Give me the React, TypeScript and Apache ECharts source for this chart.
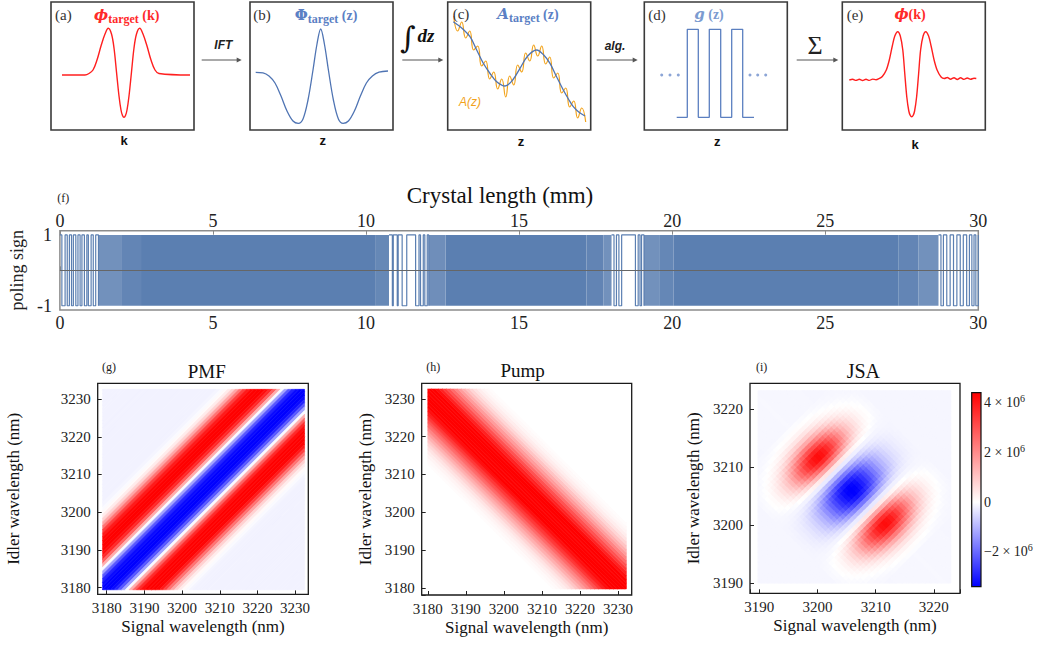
import React, { useEffect, useRef } from "react";
import * as echarts from "echarts";

const SERIF = "'Liberation Serif', 'Times New Roman', serif";
const SANS = "'Liberation Sans', Arial, sans-serif";
const RED = "#ff1f1f";
const BLUE = "#4f74b3";
const TITLE_BLUE = "#5b80c4";
const ORANGE = "#f2a31b";
const POLING_RGB = [91, 127, 177];
const POLING_BLUE = "rgb(91,127,177)";

// ---------- (a)-(e) schematic curves: x = px from panel's left edge, y = px above panel's bottom edge
const PHI_T_X = [11, 34, 38, 42, 46, 50, 54, 57.3, 60.5, 63, 65.5, 68, 70, 71.5, 73, 74.5, 76, 78, 80.5, 83, 85.5, 88.7, 92, 96, 100, 104, 108, 139];
const PHI_T_Y = [55, 55, 56.5, 60, 70, 84, 96, 101.7, 96, 82, 58, 34, 20, 14.5, 12.7, 14.5, 20, 34, 58, 82, 96, 101.7, 96, 84, 70, 60, 56.5, 55];

const PHI_Z_X = [5.7, 13, 19, 25, 31, 37, 43, 48.3, 53, 58, 63, 67, 70.7, 74.4, 78.4, 83.4, 88.4, 93.1, 98.4, 104.4, 110.4, 116.4, 122.4, 129, 138];
const PHI_Z_Y = [57.7, 57.2, 54, 47, 34, 19, 9, 6.7, 11, 30, 60, 86, 101, 86, 60, 30, 11, 6.7, 9, 19, 34, 47, 54, 57.8, 59];

const A_T_X = [5.6, 14, 22.3, 29, 35.6, 42, 49, 57.3, 65, 72.3, 80, 89, 96, 102.3, 109, 115.6, 121, 125.6, 131, 137.3];
const A_T_Y = [108.3, 102, 93.3, 80, 66.7, 57, 48.3, 44, 50, 61.7, 74, 80, 75, 66.7, 53, 40, 30.5, 23.3, 18, 14];

const A_Z_X = [6, 10, 14, 18, 22, 26, 30, 34, 38, 42, 46, 50, 54, 58, 62, 66, 70, 74, 78, 82, 86, 90, 94, 98, 102, 106, 110, 114, 118, 122, 126, 130, 134, 138];
const A_Z_Y = [114, 99, 108, 92, 99, 80, 84, 64, 69, 51, 58, 41, 51, 33, 54, 45, 65, 58, 77, 69, 85, 74, 84, 66, 73, 52, 57, 37, 42, 23, 29, 12, 22, 8];

const G_X = [32.4, 43, 54, 65, 76.4, 87.4, 98.4, 109.7];
const G_Y = [12.7, 100.7, 12.7, 100.7, 12.7, 100.7, 12.7, 12.7];
const DOTS_X = [17.4, 25.7, 34, 105.7, 113.4, 121.4];
const DOTS_Y = [55, 55, 55, 55, 55, 55];

const PHI_K_X = [7, 10.3, 13.7, 17, 20.3, 23.7, 27, 30.3, 33.7, 37, 40, 44, 47, 50, 52.5, 55.4, 58, 60.5, 62.5, 64.5, 66.5, 68, 69.4, 70.8, 72.3, 74.3, 76.3, 78.3, 80.8, 83.4, 86.3, 88.8, 91.8, 94.8, 98.8, 102, 105, 108.3, 111.7, 115, 118.3, 121.7, 125, 128.3, 131.7, 134];
const PHI_K_Y = [50, 50.8, 49.6, 50.7, 49.5, 50.8, 49.6, 50.9, 50.2, 51.5, 53.5, 60, 70, 84, 94, 98.3, 94, 80, 56, 33, 19, 14.5, 13.3, 14.5, 19, 33, 56, 80, 94, 98.3, 94, 84, 70, 60, 53, 51.5, 52.5, 50.8, 52.3, 50.5, 52.2, 50.6, 52, 50.7, 51.8, 51.5];

// ---------- (f) poling pattern (mm): [start, end, fill density]
const POLING_BLOCKS = [
  [2.65, 10.32, 1], [12.6, 17.2, 1], [20.05, 27.4, 1],
  [1.26, 2.0, 0.86], [2.0, 2.65, 0.95], [10.32, 10.75, 0.93], [12.05, 12.6, 0.88],
  [17.2, 17.75, 0.96], [17.75, 18.02, 0.86], [19.08, 19.6, 0.86], [19.6, 20.05, 0.94],
  [27.4, 28.05, 0.95], [28.05, 28.7, 0.86],
];
const POLING_WALLS = [
  [0, 0.065, 0.17, 0.24, 0.31, 0.38, 0.44, 0.52, 0.59, 0.66, 0.72, 0.8, 0.88, 0.93, 1.02, 1.09, 1.17, 1.26],
  [10.75, 10.86, 10.89, 11.02, 11.05, 11.18, 11.33, 11.62, 11.73, 11.78, 11.87, 11.92, 12.0, 12.05],
  [18.02, 18.1, 18.18, 18.26, 18.35, 18.8, 18.89, 18.95, 19.0, 19.08],
  [28.7, 28.78, 28.86, 28.97, 29.08, 29.19, 29.3, 29.41, 29.51, 29.62, 29.71, 29.79, 29.86, 29.92, 30.0],
];

// ---------- (g) PMF: value vs |signal - idler| (nm), 1 nm steps
const PMF_HALF = [-1, -1, -0.96, -0.86, -0.66, -0.36, -0.02, 0.32, 0.62, 0.84, 0.95, 1, 1, 1, 0.98, 0.9, 0.75, 0.55, 0.35, 0.18, 0.08, 0.02, -0.02, -0.04];
const PMF_BG = -0.05;
const PMF_BOX = [3178.9, 3232.5, 3179.4, 3232.6]; // signal min/max, idler min/max of the drawn field

// ---------- (h) Pump: value vs |signal + idler - centre|
const PUMP_HALF = [1, 0.99, 0.96, 0.91, 0.85, 0.78, 0.7, 0.61, 0.52, 0.43, 0.35, 0.28, 0.21, 0.15, 0.1, 0.065, 0.04, 0.02, 0.01, 0];
const PUMP_CENTER_SUM = 6411;
const PUMP_BOX = [3180, 3232.2, 3179.7, 3232.6];

// ---------- (i) JSA (×10^6): lobes across |s - i|, envelope along |s + i - centre|
const JSA_D_HALF = [-3.3, -3.25, -3.0, -2.45, -1.7, -0.9, -0.2, 0.6, 1.7, 2.9, 3.8, 4.3, 4.3, 3.9, 3.2, 2.4, 1.6, 1.0, 0.6, 0.33, 0.17, 0.08];
const JSA_D_TAIL = 0.02;
const JSA_U_HALF = [1, 0.98, 0.94, 0.87, 0.79, 0.7, 0.6, 0.5, 0.41, 0.32, 0.25, 0.19, 0.14, 0.1, 0.07, 0.045, 0.03, 0.015, 0.008, 0];
const JSA_BG = -0.12;
const JSA_CENTER_SUM = 6412;
const JSA_BOX = [3189.8, 3222.9, 3190.1, 3223.2];
const JSA_MIN = -3.4e6;
const JSA_MAX = 4.4e6;

// ---------- helpers
const WHITE = [255, 255, 255];
const PURE_RED = [255, 0, 0];
const PURE_BLUE = [0, 0, 255];
const mix = (a: number[], b: number[], t: number) =>
  `rgb(${Math.round(a[0] + (b[0] - a[0]) * t)},${Math.round(a[1] + (b[1] - a[1]) * t)},${Math.round(a[2] + (b[2] - a[2]) * t)})`;
const diverging = (v: number, lo: number, hi: number) =>
  v >= 0 ? mix(WHITE, PURE_RED, Math.min(1, v / hi)) : mix(WHITE, PURE_BLUE, Math.min(1, v / lo));

const pairs = (xs: number[], ys: number[]) => xs.map((x, i) => [x, ys[i]]);

type Pt = [number, number];
function clipHalf(poly: Pt[], f: (p: Pt) => number): Pt[] {
  const out: Pt[] = [];
  for (let k = 0; k < poly.length; k++) {
    const a = poly[k], b = poly[(k + 1) % poly.length];
    const fa = f(a), fb = f(b);
    if (fa >= 0) out.push(a);
    if ((fa >= 0) !== (fb >= 0)) {
      const t = fa / (fa - fb);
      out.push([a[0] + (b[0] - a[0]) * t, a[1] + (b[1] - a[1]) * t]);
    }
  }
  return out;
}
const boxPoly = (b: number[]): Pt[] => [[b[0], b[2]], [b[1], b[2]], [b[1], b[3]], [b[0], b[3]]];

// cell in rotated (d = s - i, u = s + i) coordinates, clipped to the drawn field
function cellPoly(box: number[], d0: number, d1: number, u0: number, u1: number): Pt[] {
  let p = boxPoly(box);
  if (isFinite(d0)) p = clipHalf(p, (q) => q[0] - q[1] - d0);
  if (isFinite(d1)) p = clipHalf(p, (q) => d1 - (q[0] - q[1]));
  if (isFinite(u0)) p = clipHalf(p, (q) => q[0] + q[1] - u0);
  if (isFinite(u1)) p = clipHalf(p, (q) => u1 - (q[0] + q[1]));
  return p;
}

// data items: [dCentre, uCentre, value] (NaN = unbounded)
function rotatedSeries(data: number[][], xIdx: number, yIdx: number, box: number[], colorFn: (v: number) => string, lw: number) {
  return {
    type: "custom",
    xAxisIndex: xIdx,
    yAxisIndex: yIdx,
    silent: true,
    progressive: 0,
    data,
    renderItem: (_p: any, api: any) => {
      const dc = api.value(0), uc = api.value(1);
      const hasD = !isNaN(dc), hasU = !isNaN(uc);
      const poly = cellPoly(box, hasD ? dc - 0.5 : -Infinity, hasD ? dc + 0.5 : Infinity, hasU ? uc - 0.5 : -Infinity, hasU ? uc + 0.5 : Infinity);
      if (poly.length < 3) return { type: "group", children: [] };
      const fill = colorFn(api.value(2));
      return {
        type: "polygon",
        shape: { points: poly.map((q) => api.coord(q)) },
        style: { fill, stroke: fill, lineWidth: lw, lineJoin: "round" },
      };
    },
  };
}

function buildPMF() {
  const out: number[][] = [];
  for (let d = -55; d <= 55; d++) {
    const a = Math.abs(d);
    out.push([d, NaN, a < PMF_HALF.length ? PMF_HALF[a] : PMF_BG]);
  }
  return out;
}
function buildPump() {
  const out: number[][] = [];
  for (let u = 6356; u <= 6468; u++) {
    const a = Math.abs(u - PUMP_CENTER_SUM);
    out.push([NaN, u, a < PUMP_HALF.length ? PUMP_HALF[a] : 0]);
  }
  return out;
}
function buildJSA() {
  const out: number[][] = [];
  for (let d = -35; d <= 35; d++)
    for (let u = 6377; u <= 6448; u++) {
      const s = (u + d) / 2, i = (u - d) / 2;
      if (s < JSA_BOX[0] - 1 || s > JSA_BOX[1] + 1 || i < JSA_BOX[2] - 1 || i > JSA_BOX[3] + 1) continue;
      const ad = Math.abs(d), au = Math.abs(u - JSA_CENTER_SUM);
      const f = ad < JSA_D_HALF.length ? JSA_D_HALF[ad] : JSA_D_TAIL;
      const g = au < JSA_U_HALF.length ? JSA_U_HALF[au] : 0;
      out.push([d, u, (f * g + JSA_BG) * 1e6]);
    }
  return out;
}

const tenOnly = (v: number) => (Math.abs(v / 10 - Math.round(v / 10)) < 1e-6 ? String(Math.round(v)) : "");

function lineSeries(xs: number[], ys: number[], grid: number, color: string, extra: any = {}) {
  return {
    type: "line",
    xAxisIndex: grid,
    yAxisIndex: grid,
    data: pairs(xs, ys),
    showSymbol: false,
    symbol: "none",
    smooth: 0.35,
    silent: true,
    lineStyle: { color, width: 1.3 },
    ...extra,
  };
}

const TOP_LEFTS = [51, 250, 447.7, 644.3, 842.3];

function heatAxes(grid: number, xr: number[], yr: number[], yGap: number) {
  const common = {
    gridIndex: grid,
    type: "value",
    minInterval: 10,
    maxInterval: 10,
    axisLine: { show: false },
    axisTick: { inside: true, length: 4, lineStyle: { color: "#222", width: 1 } },
    splitLine: { show: false },
    axisLabel: { formatter: tenOnly, fontFamily: SERIF, fontSize: 15, color: "#222", margin: 6 },
    nameLocation: "middle",
    nameTextStyle: { fontFamily: SERIF, fontSize: 17, color: "#111" },
  };
  return {
    x: { ...common, min: xr[0], max: xr[1], name: "Signal wavelength (nm)", nameGap: 24 },
    y: { ...common, min: yr[0], max: yr[1], name: "Idler wavelength (nm)", nameGap: yGap, nameRotate: 90, axisLabel: { ...common.axisLabel, margin: 7 } },
  };
}

function text(x: number, y: number, t: string, style: any) {
  return { type: "text", x, y, z: 100, silent: true, style: { text: t, align: "center", verticalAlign: "middle", fill: "#222", ...style } };
}

function buildOption() {
  const hg = heatAxes(6, [3177.6, 3233.5], [3178.2, 3234.2], 76);
  const hh = heatAxes(7, [3178.4, 3233.6], [3178.1, 3234.1], 48);
  const hi = heatAxes(8, [3188.4, 3224.5], [3188.3, 3224.5], 48.5);

  const polAxisBase = {
    gridIndex: 5,
    type: "value",
    min: 0,
    max: 30,
    interval: 5,
    axisLine: { show: false },
    axisTick: { inside: true, length: 4, lineStyle: { color: "#888" } },
    splitLine: { show: false },
  };

  const grids: any[] = [
    ...TOP_LEFTS.map((l) => ({ left: l, top: 2, width: 143, height: 128, show: true, borderColor: "#3a3a3a", borderWidth: 1.6, backgroundColor: "#fff" })),
    { left: 56.7, top: 230.7, width: 921.6, height: 79.3, show: true, borderColor: "#8c8c8c", borderWidth: 1.5 },
    { left: 97.7, top: 383.3, width: 210.6, height: 211, show: true, borderColor: "#1a1a1a", borderWidth: 1.3 },
    { left: 421.7, top: 383.3, width: 210, height: 211.7, show: true, borderColor: "#1a1a1a", borderWidth: 1.3 },
    { left: 750, top: 383.3, width: 210, height: 210, show: true, borderColor: "#1a1a1a", borderWidth: 1.3 },
    { left: 971.7, top: 392.7, width: 9.3, height: 194, show: false },
  ];

  // xAxis: 0-4 top panels, 5 poling bottom, 6 poling top, 7 PMF, 8 Pump, 9 JSA, 10 colour bar
  const xAxes: any[] = [
    ...TOP_LEFTS.map((_, k) => ({ gridIndex: k, type: "value", min: 0, max: 143, show: false })),
    { ...polAxisBase, position: "bottom", axisLabel: { fontFamily: SERIF, fontSize: 18, color: "#222", margin: 4 } },
    { ...polAxisBase, position: "top", axisLabel: { fontFamily: SERIF, fontSize: 18, color: "#222", margin: 1 } },
    hg.x,
    hh.x,
    hi.x,
    { gridIndex: 9, type: "value", min: 0, max: 1, show: false },
  ];

  const cbFmt = (v: number) => {
    const m = Math.round(v / 1e6);
    if (Math.abs(v - m * 1e6) > 1) return "";
    if (m === 0) return "0";
    if (m % 2 !== 0) return "";
    return `${m < 0 ? "\u2212" : ""}${Math.abs(m)} × 10{sup|6}`;
  };

  // yAxis: 0-4 top panels, 5 poling, 6 PMF, 7 Pump, 8 JSA, 9 colour bar
  const yAxes: any[] = [
    ...TOP_LEFTS.map((_, k) => ({ gridIndex: k, type: "value", min: 0, max: 128, show: false })),
    {
      gridIndex: 5,
      type: "value",
      min: -1.12,
      max: 1.12,
      minInterval: 1,
      maxInterval: 1,
      axisLine: { show: false },
      axisTick: { show: false },
      splitLine: { show: false },
      axisLabel: {
        fontFamily: SERIF,
        fontSize: 18,
        color: "#222",
        margin: 8,
        formatter: (v: number) => (Math.abs(v - 1) < 1e-9 ? "1" : Math.abs(v + 1) < 1e-9 ? "-1" : ""),
      },
      name: "poling sign",
      nameLocation: "middle",
      nameRotate: 90,
      nameGap: 29,
      nameTextStyle: { fontFamily: SERIF, fontSize: 18, color: "#222" },
    },
    hg.y,
    hh.y,
    hi.y,
    {
      gridIndex: 9,
      type: "value",
      position: "right",
      min: JSA_MIN,
      max: JSA_MAX,
      minInterval: 2e6,
      maxInterval: 2e6,
      axisLine: { show: false },
      axisTick: { show: false },
      splitLine: { show: false },
      axisLabel: {
        formatter: cbFmt,
        fontFamily: SERIF,
        fontSize: 14,
        color: "#222",
        margin: 3,
        lineHeight: 18,
        rich: { sup: { fontSize: 10, lineHeight: 10, verticalAlign: "top", fontFamily: SERIF, color: "#222" } },
      },
    },
  ];

  const series: any[] = [
    lineSeries(PHI_T_X, PHI_T_Y, 0, RED, { lineStyle: { color: RED, width: 1.4 } }),
    lineSeries(PHI_Z_X, PHI_Z_Y, 1, BLUE),
    lineSeries(A_Z_X, A_Z_Y, 2, ORANGE, { smooth: 0.5, lineStyle: { color: ORANGE, width: 1.2 } }),
    lineSeries(A_T_X, A_T_Y, 2, BLUE),
    lineSeries(G_X, G_Y, 3, "#5b7fc0", { smooth: false, step: "end" }),
    {
      type: "scatter",
      xAxisIndex: 3,
      yAxisIndex: 3,
      data: pairs(DOTS_X, DOTS_Y),
      symbolSize: 3,
      silent: true,
      itemStyle: { color: "#6f8fcc" },
    },
    lineSeries(PHI_K_X, PHI_K_Y, 4, RED, { smooth: 0.3, lineStyle: { color: RED, width: 1.4 } }),
    {
      type: "custom",
      xAxisIndex: 5,
      yAxisIndex: 5,
      silent: true,
      z: 2,
      data: POLING_BLOCKS,
      encode: { x: [0, 1] },
      renderItem: (_p: any, api: any) => {
        const p0 = api.coord([api.value(0), 1]);
        const p1 = api.coord([api.value(1), -1]);
        const c = mix(WHITE, POLING_RGB, api.value(2));
        return {
          type: "rect",
          shape: { x: p0[0], y: p0[1], width: p1[0] - p0[0], height: p1[1] - p0[1] },
          style: { fill: c },
        };
      },
    },
    ...POLING_WALLS.map((zone, zi) => ({
      type: "line",
      xAxisIndex: 5,
      yAxisIndex: 5,
      step: "end",
      silent: true,
      z: 3,
      showSymbol: false,
      symbol: "none",
      data: zone.map((x, k) => [x, k % 2 === 0 ? 1 : -1]),
      lineStyle: { color: POLING_BLUE, width: 1.2 },
      markLine:
        zi === POLING_WALLS.length - 1
          ? {
              silent: true,
              symbol: "none",
              label: { show: false },
              lineStyle: { color: "#666", width: 1, type: "solid" },
              data: [{ yAxis: 0 }],
              z: 5,
            }
          : undefined,
    })),
    rotatedSeries(buildPMF(), 7, 6, PMF_BOX, (v) => diverging(v, -1, 1), 0.6),
    rotatedSeries(buildPump(), 8, 7, PUMP_BOX, (v) => mix(WHITE, PURE_RED, Math.min(1, Math.max(0, v / 0.9))), 0.6),
    rotatedSeries(buildJSA(), 9, 8, JSA_BOX, (v) => diverging(v, JSA_MIN, JSA_MAX), 1.1),
  ];

  const zeroOffset = JSA_MAX / (JSA_MAX - JSA_MIN);

  const arrows = [[201.7, 241.7], [402.3, 443.3], [596.7, 637.7], [796.7, 838.3]];
  const arrowEls: any[] = [];
  arrows.forEach(([x0, x1]) => {
    arrowEls.push({ type: "line", z: 100, silent: true, shape: { x1: x0, y1: 60, x2: x1 - 3, y2: 60 }, style: { stroke: "#555", lineWidth: 1 } });
    arrowEls.push({ type: "polygon", z: 100, silent: true, shape: { points: [[x1 - 5, 57.6], [x1, 60], [x1 - 5, 62.4]] }, style: { fill: "#555" } });
  });

  const titleRich = (color: string) => ({
    p: { fontSize: 15, fontWeight: "bold", fontFamily: "'DejaVu Serif', " + SERIF, fill: color, lineHeight: 20, verticalAlign: "middle" },
    pi: { fontSize: 15, fontWeight: "bold", fontStyle: "italic", fontFamily: "'DejaVu Serif', " + SERIF, fill: color, lineHeight: 20, verticalAlign: "middle" },
    s: { fontSize: 12, fontWeight: "bold", fontFamily: SERIF, fill: color, lineHeight: 12, verticalAlign: "bottom" },
    k: { fontSize: 14, fontWeight: "bold", fontFamily: SERIF, fill: color, lineHeight: 20, verticalAlign: "middle" },
  });

  const graphics: any[] = [
    ...arrowEls,
    ...[[55, 15, "(a)"], [253.3, 15, "(b)"], [452.7, 14, "(c)"], [648.3, 15, "(d)"], [846.7, 15, "(e)"]].map(([x, y, t]) =>
      text(x as number, y as number, t as string, { align: "left", fontFamily: SERIF, fontSize: 15, fill: "#333" })
    ),
    text(126.7, 15, "{pi|ϕ}{s|target}{k| (k)}", { rich: titleRich("#ff2a2a") }),
    text(326, 15, "{p|Φ}{s|target}{k| (z)}", { rich: titleRich(TITLE_BLUE) }),
    text(528, 14, "{pi|A}{s|target}{k| (z)}", { rich: titleRich(TITLE_BLUE) }),
    text(709, 14, "{pi|g}{k| (z)}", { rich: titleRich("#7b9bd0") }),
    text(910, 14, "{pi|ϕ}{k|(k)}", { rich: titleRich("#ff2a2a") }),
    ...[[124, 140, "k"], [322.7, 140, "z"], [521, 141.7, "z"], [717.3, 141.7, "z"], [915, 144, "k"]].map(([x, y, t]) =>
      text(x as number, y as number, t as string, { fontFamily: SANS, fontWeight: "bold", fontSize: 13, fill: "#111" })
    ),
    text(223.3, 45, "IFT", { fontFamily: SANS, fontStyle: "italic", fontWeight: "bold", fontSize: 12, fill: "#222" }),
    text(408, 37, "∫", { fontFamily: "'DejaVu Serif', serif", fontSize: 30, fill: "#111" }),
    text(426, 35, "dz", { fontFamily: SERIF, fontStyle: "italic", fontWeight: "bold", fontSize: 19, fill: "#111" }),
    text(615, 46, "alg.", { fontFamily: SANS, fontStyle: "italic", fontWeight: "bold", fontSize: 12, fill: "#222" }),
    text(815, 45, "Σ", { fontFamily: SERIF, fontSize: 26, fill: "#222" }),
    text(470, 101.7, "A(z)", { fontFamily: SANS, fontStyle: "italic", fontSize: 12, fill: ORANGE }),
    text(500, 195, "Crystal length (mm)", { fontFamily: SERIF, fontSize: 23, fill: "#111" }),
    text(63.3, 198, "(f)", { fontFamily: SERIF, fontSize: 12, fill: "#222" }),
    text(109, 366.7, "(g)", { fontFamily: SERIF, fontSize: 12, fill: "#222" }),
    text(433.3, 366.7, "(h)", { fontFamily: SERIF, fontSize: 12, fill: "#222" }),
    text(761.7, 367.3, "(i)", { fontFamily: SERIF, fontSize: 12, fill: "#222" }),
    text(206.7, 371.7, "PMF", { fontFamily: SERIF, fontSize: 19, fill: "#111" }),
    text(522.7, 370.7, "Pump", { fontFamily: SERIF, fontSize: 19, fill: "#111" }),
    text(863.3, 370.7, "JSA", { fontFamily: SERIF, fontSize: 20, fill: "#111" }),
    {
      type: "rect",
      z: 50,
      silent: true,
      shape: { x: 971.7, y: 392.7, width: 9.3, height: 194 },
      style: {
        fill: new echarts.graphic.LinearGradient(0, 0, 0, 1, [
          { offset: 0, color: "#ff0000" },
          { offset: zeroOffset, color: "#ffffff" },
          { offset: 1, color: "#0000ff" },
        ]),
        stroke: "#111",
        lineWidth: 1.2,
      },
    },
  ];

  return {
    animation: false,
    backgroundColor: "#ffffff",
    textStyle: { fontFamily: SERIF },
    grid: grids,
    xAxis: xAxes,
    yAxis: yAxes,
    series,
    graphic: { elements: graphics },
  };
}

export default function App() {
  const ref = useRef<HTMLDivElement>(null);
  useEffect(() => {
    if (!ref.current) return;
    const chart = echarts.init(ref.current, undefined, { renderer: "svg" });
    chart.setOption(buildOption() as any);
    return () => chart.dispose();
  }, []);
  return (
    <div
      ref={ref}
      style={{ position: "fixed", left: 0, top: 0, width: 1045, height: 646, background: "#fff" }}
    />
  );
}
